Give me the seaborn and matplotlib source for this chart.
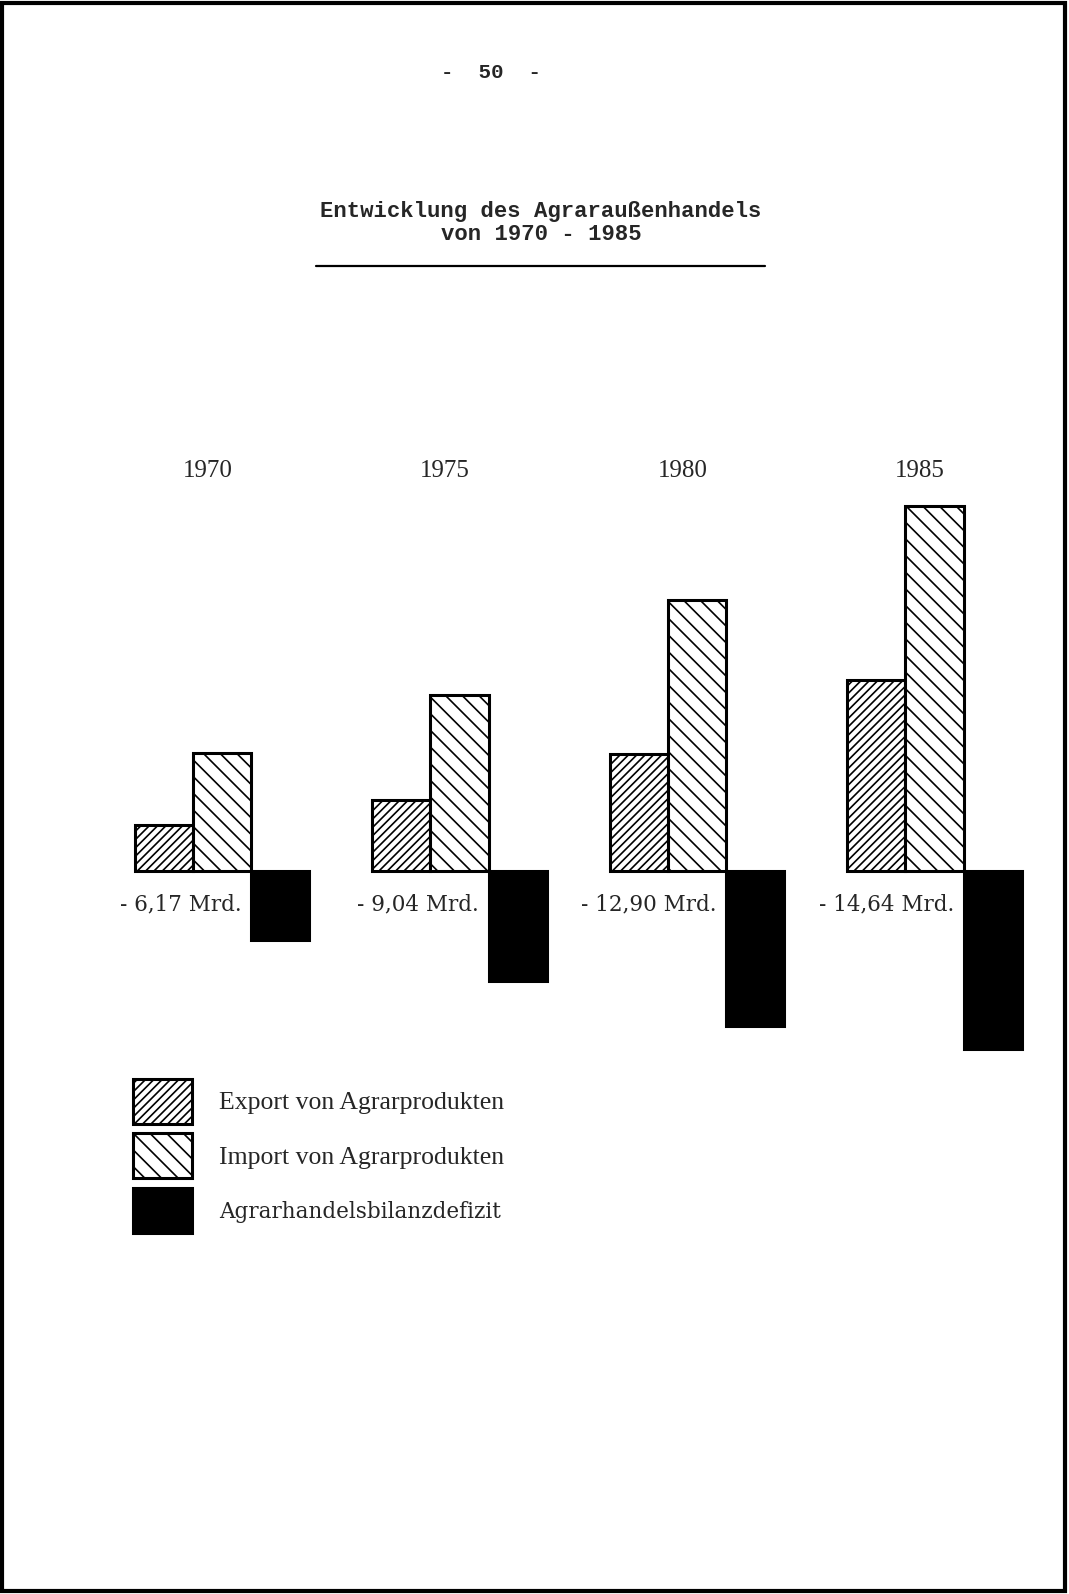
import matplotlib
matplotlib.use('Agg')
import matplotlib.pyplot as plt
import matplotlib.patches as mpatches
from matplotlib.lines import Line2D
import pandas as pd
import seaborn as sns


# Data (Mrd.)
years = ['1970', '1975', '1980', '1985']
export_values = [3.8, 5.9, 9.75, 15.9]
import_values = [9.8, 14.7, 22.6, 30.4]
deficit_values = [5.75, 9.2, 12.9, 14.8]
deficit_labels = ['- 6,17 Mrd.', '- 9,04 Mrd.', '- 12,90 Mrd.', '- 14,64 Mrd.']
series_names = ['Export von Agrarprodukten', 'Import von Agrarprodukten',
                'Agrarhandelsbilanzdefizit']

# layout in pixels of the page
W, H = 1069, 1594
GROUP_X0 = 222      # px of first group centre
GROUP_STEP = 237.5  # px between groups
BASE_Y = 871        # px (from top) of the zero line
PX_PER_UNIT = 12.0
GROUP_WIDTH = 0.735

sns.set_style('white')
plt.rcParams['hatch.linewidth'] = 1.2
plt.rcParams['hatch.color'] = 'black'

df = pd.DataFrame({
    'Jahr': years * 3,
    'Art': ['Export'] * 4 + ['Import'] * 4 + ['Defizit'] * 4,
    'Wert': export_values + import_values + [-v for v in deficit_values],
})

fig = plt.figure(figsize=(W / 100, H / 100), dpi=100)
ax = fig.add_axes([0, 0, 1, 1])

sns.barplot(data=df, x='Jahr', y='Wert', hue='Art', ax=ax,
            palette={'Export': 'white', 'Import': 'white', 'Defizit': 'black'},
            width=GROUP_WIDTH, edgecolor='black', linewidth=2.2,
            saturation=1, legend=False, errorbar=None)

hatches = ['////', '\\\\', None]
for container, h in zip(ax.containers, hatches):
    for bar in container:
        if h:
            bar.set_hatch(h)

# map the axes so one unit = one group step, y in Mrd.
ax.set_xlim(-GROUP_X0 / GROUP_STEP, (W - GROUP_X0) / GROUP_STEP)
ax.set_ylim(-(H - BASE_Y) / PX_PER_UNIT, BASE_Y / PX_PER_UNIT)
ax.axis('off')

serif = 'Liberation Serif'
mono = 'Liberation Mono'
type_font = 'DejaVu Serif'

for i, yr in enumerate(years):
    ax.text(i - 0.06, 400 / PX_PER_UNIT, yr, ha='center', va='center',
            fontsize=18, family=serif)
    ax.text(i + GROUP_WIDTH / 6 - 0.04, -2.8, deficit_labels[i],
            ha='right', va='center', fontsize=15.5, family=type_font)

# page number and title
fig.text(0.459, 1 - 73 / H, '-  50  -', ha='center', va='center',
         fontsize=15, family=mono, weight='bold')
fig.text(0.506, 1 - 212 / H, 'Entwicklung des Agraraußenhandels', ha='center',
         va='center', fontsize=16, family=mono, weight='bold')
fig.text(0.506, 1 - 234 / H, 'von 1970 - 1985', ha='center',
         va='center', fontsize=16, family=mono, weight='bold')
fig.add_artist(Line2D([316 / W, 765 / W], [1 - 266 / H, 1 - 266 / H],
                      color='black', lw=1.6))

# legend
handles = [
    mpatches.Patch(facecolor='white', edgecolor='black', hatch='////', lw=2.2),
    mpatches.Patch(facecolor='white', edgecolor='black', hatch='\\\\', lw=2.2),
    mpatches.Patch(facecolor='black', edgecolor='black', lw=2.2),
]
leg = fig.legend(handles, series_names, loc='upper left',
                 bbox_to_anchor=(133 / W, 1 - 1079 / H), frameon=False,
                 borderpad=0, borderaxespad=0, handlelength=2.3,
                 handleheight=2.3, labelspacing=0.38, handletextpad=1.05,
                 prop={'family': serif, 'size': 18.5})
leg.get_texts()[2].set_family(type_font)
leg.get_texts()[2].set_fontsize(15.5)

# scanned page frame
fig.add_artist(mpatches.Rectangle((0.002, 0.002), 0.994, 0.996,
                                  transform=fig.transFigure, fill=False,
                                  lw=3, edgecolor='black'))

plt.savefig('out.png', dpi=100)
